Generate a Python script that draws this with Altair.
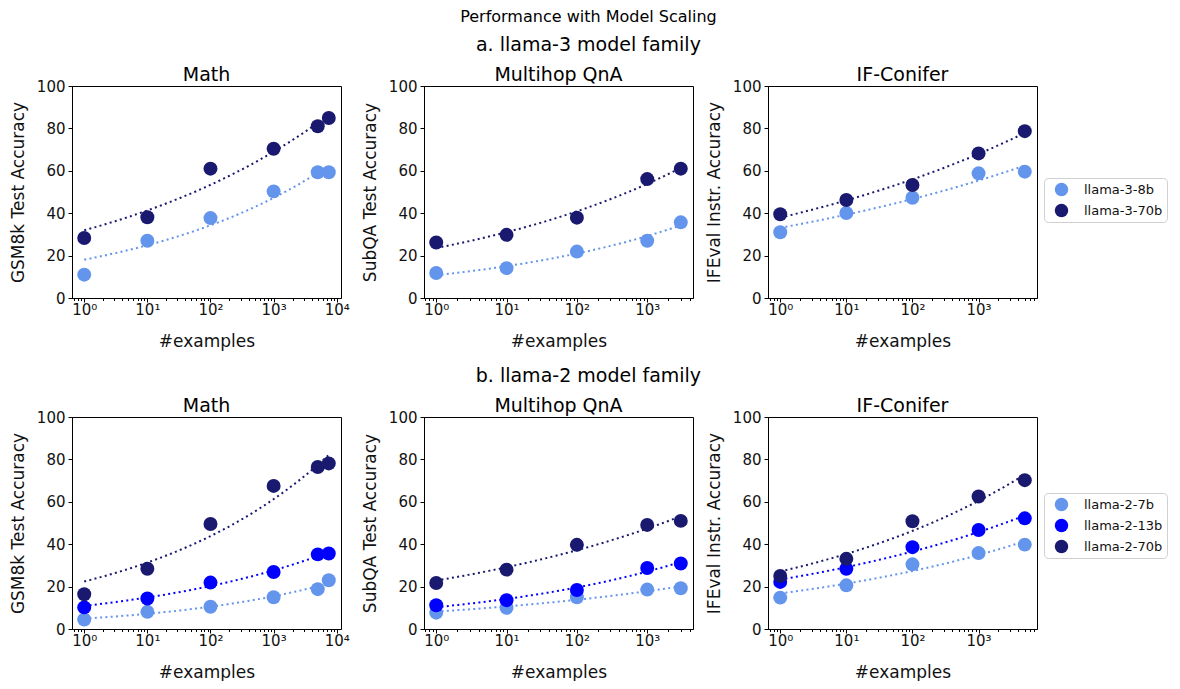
import math
import numpy as np
import altair as alt
import pandas as pd

FONT = "DejaVu Sans"

# ---------------- data ----------------
x_math = [1, 10, 100, 1000, 5000, 7473]
x_subqa = [1, 10, 100, 1000, 3000]
x_if = [1, 10, 100, 1000, 5000]

models_l3 = ["llama-3-8b", "llama-3-70b"]
colors_l3 = ["#6495ED", "#191970"]
models_l2 = ["llama-2-7b", "llama-2-13b", "llama-2-70b"]
colors_l2 = ["#6495ED", "#0000FF", "#191970"]

# llama-3 family
l3_math_8b = [11.0, 27.0, 37.7, 50.3, 59.3, 59.3]
l3_math_70b = [28.3, 38.1, 61.0, 70.4, 81.0, 84.9]
l3_subqa_8b = [11.8, 14.1, 21.9, 27.0, 35.7]
l3_subqa_70b = [26.2, 29.8, 37.9, 56.1, 61.0]
l3_if_8b = [31.0, 40.1, 47.3, 58.8, 59.6]
l3_if_70b = [39.5, 46.2, 53.3, 68.2, 78.7]

# llama-2 family
l2_math_7b = [4.5, 8.1, 10.5, 15.0, 18.8, 23.0]
l2_math_13b = [10.2, 14.4, 21.9, 26.9, 35.2, 35.6]
l2_math_70b = [16.4, 28.4, 49.5, 67.5, 76.4, 78.1]
l2_subqa_7b = [7.7, 10.0, 15.0, 18.6, 19.2]
l2_subqa_13b = [11.2, 13.6, 18.4, 28.8, 30.9]
l2_subqa_70b = [21.7, 28.0, 39.7, 49.1, 51.0]
l2_if_7b = [14.8, 20.6, 30.5, 35.8, 39.8]
l2_if_13b = [22.2, 28.4, 38.6, 46.7, 52.2]
l2_if_70b = [25.0, 33.1, 50.8, 62.5, 70.2]

tasks = ["Math", "Multihop QnA", "IF-Conifer"]
ytitles = ["GSM8k Test Accuracy", "SubQA Test Accuracy", "IFEval Instr. Accuracy"]
xs = [x_math, x_subqa, x_if]

rows = [
    ("a. llama-3 model family", models_l3, colors_l3,
     [[l3_math_8b, l3_math_70b], [l3_subqa_8b, l3_subqa_70b], [l3_if_8b, l3_if_70b]], 92),
    ("b. llama-2 model family", models_l2, colors_l2,
     [[l2_math_7b, l2_math_13b, l2_math_70b], [l2_subqa_7b, l2_subqa_13b, l2_subqa_70b],
      [l2_if_7b, l2_if_13b, l2_if_70b]], 76),
]

SUP = {0: "⁰", 1: "¹", 2: "²", 3: "³", 4: "⁴"}
label_expr = "".join(
    f"datum.value == {10**e} ? '10{SUP[e]}' : " for e in range(5)
) + "''"
major_test = "indexof([1, 10, 100, 1000, 10000], datum.value) >= 0"

W, H = 269, 212


def power_fit(xv, yv):
    """Least-squares fit of y = a * x**b (in linear space)."""
    xv = np.asarray(xv, float)
    yv = np.asarray(yv, float)
    best = None
    for b in np.arange(0.0, 1.0, 0.0005):
        xb = xv ** b
        a = float((yv * xb).sum() / (xb * xb).sum())
        sse = float(((yv - a * xb) ** 2).sum())
        if best is None or sse < best[0]:
            best = (sse, a, b)
    return best[1], best[2]


def panel(task, ytitle, xvals, series, models, colors, show_legend, legend_y):
    recs = []
    fit_recs = []
    lo_l, hi_l = math.log10(min(xvals)), math.log10(max(xvals))
    samples = np.logspace(lo_l, hi_l, 80)
    for m, ys in zip(models, series):
        for xv, yv in zip(xvals, ys):
            recs.append({"x": xv, "y": yv, "model": m})
        a, b = power_fit(xvals, ys)
        for s in samples:
            fit_recs.append({"x": float(s), "a": a, "b": b, "model": m})
    df = pd.DataFrame(recs)
    fit_df = pd.DataFrame(fit_recs)

    span = hi_l - lo_l
    lo, hi = 10 ** (lo_l - 0.05 * span), 10 ** (hi_l + 0.05 * span)
    tick_vals = [m * 10 ** e for e in range(-1, 5) for m in range(1, 10)]
    tick_vals = [t for t in tick_vals if lo <= t <= hi]

    xenc = alt.X(
        "x:Q",
        scale=alt.Scale(type="log", domain=[lo, hi], nice=False, zero=False),
        axis=alt.Axis(
            title="#examples", values=tick_vals, labelExpr=label_expr,
            tickSize={"condition": {"test": major_test, "value": 4}, "value": 2.5},
            labelOverlap=False, labelFlush=False, grid=False,
            labelFontSize=15, titleFontSize=17, titlePadding=16,
            labelPadding=0,
        ),
    )
    yenc = alt.Y(
        "y:Q",
        scale=alt.Scale(domain=[0, 100], nice=False),
        axis=alt.Axis(
            title=ytitle, values=[0, 20, 40, 60, 80, 100], grid=False,
            tickSize=4, labelFontSize=15, titleFontSize=17, titlePadding=9,
            labelPadding=3,
        ),
    )
    if show_legend:
        legend = alt.Legend(
            title=None, orient="none", legendX=W + 7, legendY=legend_y,
            strokeColor="#d0d0d0", fillColor="white", cornerRadius=4,
            padding=4, labelFontSize=13, symbolSize=180, symbolType="circle",
            symbolOffset=6, rowPadding=6, labelOffset=15,
        )
    else:
        legend = None
    lines = alt.Chart(fit_df).transform_calculate(
        y="datum.a * pow(datum.x, datum.b)"
    ).mark_line(strokeDash=[2, 3.3], strokeWidth=2).encode(
        x=xenc, y=yenc,
        stroke=alt.Stroke("model:N", scale=alt.Scale(domain=models, range=colors), legend=None),
        order="x:Q",
    )
    points = alt.Chart(df).mark_circle(size=195, opacity=1).encode(
        x=xenc, y=yenc,
        color=alt.Color("model:N", scale=alt.Scale(domain=models, range=colors), legend=legend),
    )
    return alt.layer(lines, points).properties(
        width=W, height=H,
        title=alt.Title(task, fontSize=19, fontWeight="normal", font=FONT, offset=-6),
    ).resolve_scale(color="independent", stroke="independent")


row_charts = []
for rtitle, models, colors, data, ly in rows:
    panels = []
    for i in range(3):
        panels.append(panel(tasks[i], ytitles[i], xs[i], data[i], models, colors, i == 2, ly))
    row = alt.hconcat(*panels, spacing=10).properties(
        title=alt.Title(rtitle, fontSize=19, fontWeight="normal", font=FONT, anchor="middle", offset=11)
    ).resolve_scale(color="independent", stroke="independent")
    row_charts.append(row)

chart = alt.vconcat(*row_charts, spacing=16).properties(
    title=alt.Title("Performance with Model Scaling", fontSize=16, fontWeight="normal",
                    font=FONT, anchor="middle", offset=11),
    padding={"left": 0, "top": 0, "right": 0, "bottom": 0},
).resolve_scale(color="independent", stroke="independent").configure(
    font=FONT,
).configure_view(
    stroke="black", strokeWidth=1,
).configure_axis(
    domainColor="black", tickColor="black", labelColor="#111", titleColor="#111",
    labelFont=FONT, titleFont=FONT, titleFontWeight="normal",
).configure_legend(
    labelFont=FONT, labelColor="#111",
)

chart.save("out.html", embed_options={"renderer": "svg", "actions": False})
